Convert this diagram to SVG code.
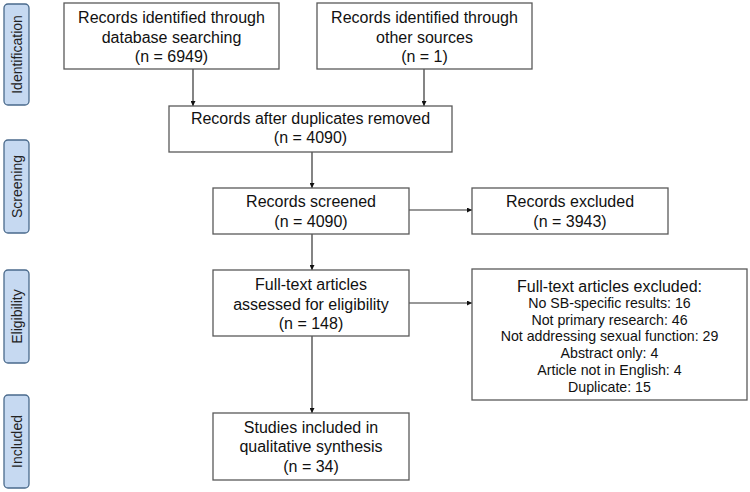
<svg xmlns="http://www.w3.org/2000/svg" width="750" height="492" viewBox="0 0 750 492">
<defs>
<style>
.box{fill:#fff;stroke:#595959;stroke-width:1.3}
.side{fill:#c6d9f1;stroke:#4a6a8c;stroke-width:1.3}
.t{font-family:"Liberation Sans",Arial,sans-serif;font-size:16px;fill:#111;text-anchor:middle}
.s{font-family:"Liberation Sans",Arial,sans-serif;font-size:14.2px;fill:#111;text-anchor:middle}
.st{font-family:"Liberation Sans",Arial,sans-serif;font-size:14px;fill:#222;text-anchor:middle}
.c{stroke:#333;stroke-width:1.2;fill:none;marker-end:url(#ah)}
</style>
<marker id="ah" viewBox="0 0 10 10" refX="10" refY="5" markerWidth="5" markerHeight="5" markerUnits="userSpaceOnUse" orient="auto">
<path d="M0,0 L10,5 L0,10 z" fill="#111"/>
</marker>
</defs>
<rect width="750" height="492" fill="#fff"/>
<g id="stage-identification"><rect class="side" x="4" y="4" width="25" height="101" rx="4"/><text class="st" transform="translate(21.5,54.5) rotate(-90)">Identification</text></g>
<g id="stage-screening"><rect class="side" x="4" y="140" width="25" height="93" rx="4"/><text class="st" transform="translate(21.5,186.5) rotate(-90)">Screening</text></g>
<g id="stage-eligibility"><rect class="side" x="4" y="270" width="25" height="93" rx="4"/><text class="st" transform="translate(21.5,316.5) rotate(-90)">Eligibility</text></g>
<g id="stage-included"><rect class="side" x="4" y="395" width="25" height="93" rx="4"/><text class="st" transform="translate(21.5,441.5) rotate(-90)">Included</text></g>
<g id="connectors">
<path class="c" d="M193,69 V106"/>
<path class="c" d="M424,69 V106"/>
<path class="c" d="M312,152 V188"/>
<path class="c" d="M409,210 H472"/>
<path class="c" d="M312,234 V270"/>
<path class="c" d="M409,303 H472"/>
<path class="c" d="M312,336 V413"/>
</g>
<g id="db"><rect class="box" x="64" y="3" width="215" height="66"/><text class="t" x="171.5" y="23">Records identified through</text><text class="t" x="171.5" y="42.5">database searching</text><text class="t" x="171.5" y="62">(n = 6949)</text></g>
<g id="other"><rect class="box" x="317" y="3" width="215" height="66"/><text class="t" x="424.5" y="23">Records identified through</text><text class="t" x="424.5" y="42.5">other sources</text><text class="t" x="424.5" y="62">(n = 1)</text></g>
<g id="dedup"><rect class="box" x="169" y="106" width="283" height="46"/><text class="t" x="310.5" y="124">Records after duplicates removed</text><text class="t" x="310.5" y="142.5">(n = 4090)</text></g>
<g id="screened"><rect class="box" x="213" y="188" width="196" height="46"/><text class="t" x="311" y="207">Records screened</text><text class="t" x="311" y="227">(n = 4090)</text></g>
<g id="excluded"><rect class="box" x="472" y="188" width="196" height="46"/><text class="t" x="570" y="207">Records excluded</text><text class="t" x="570" y="227">(n = 3943)</text></g>
<g id="fulltext"><rect class="box" x="213" y="270" width="196" height="66"/><text class="t" x="311" y="290">Full-text articles</text><text class="t" x="311" y="309.5">assessed for eligibility</text><text class="t" x="311" y="329">(n = 148)</text></g>
<g id="ft-excluded"><rect class="box" x="472" y="269" width="275" height="131"/><text class="t" x="609.5" y="291.5">Full-text articles excluded:</text><text class="s" x="609.5" y="308">No SB-specific results: 16</text><text class="s" x="609.5" y="324.5">Not primary research: 46</text><text class="s" x="609.5" y="341">Not addressing sexual function: 29</text><text class="s" x="609.5" y="358">Abstract only: 4</text><text class="s" x="609.5" y="375">Article not in English: 4</text><text class="s" x="609.5" y="392">Duplicate: 15</text></g>
<g id="included"><rect class="box" x="213" y="413" width="196" height="67"/><text class="t" x="311" y="432.5">Studies included in</text><text class="t" x="311" y="452">qualitative synthesis</text><text class="t" x="311" y="472">(n = 34)</text></g>
</svg>
